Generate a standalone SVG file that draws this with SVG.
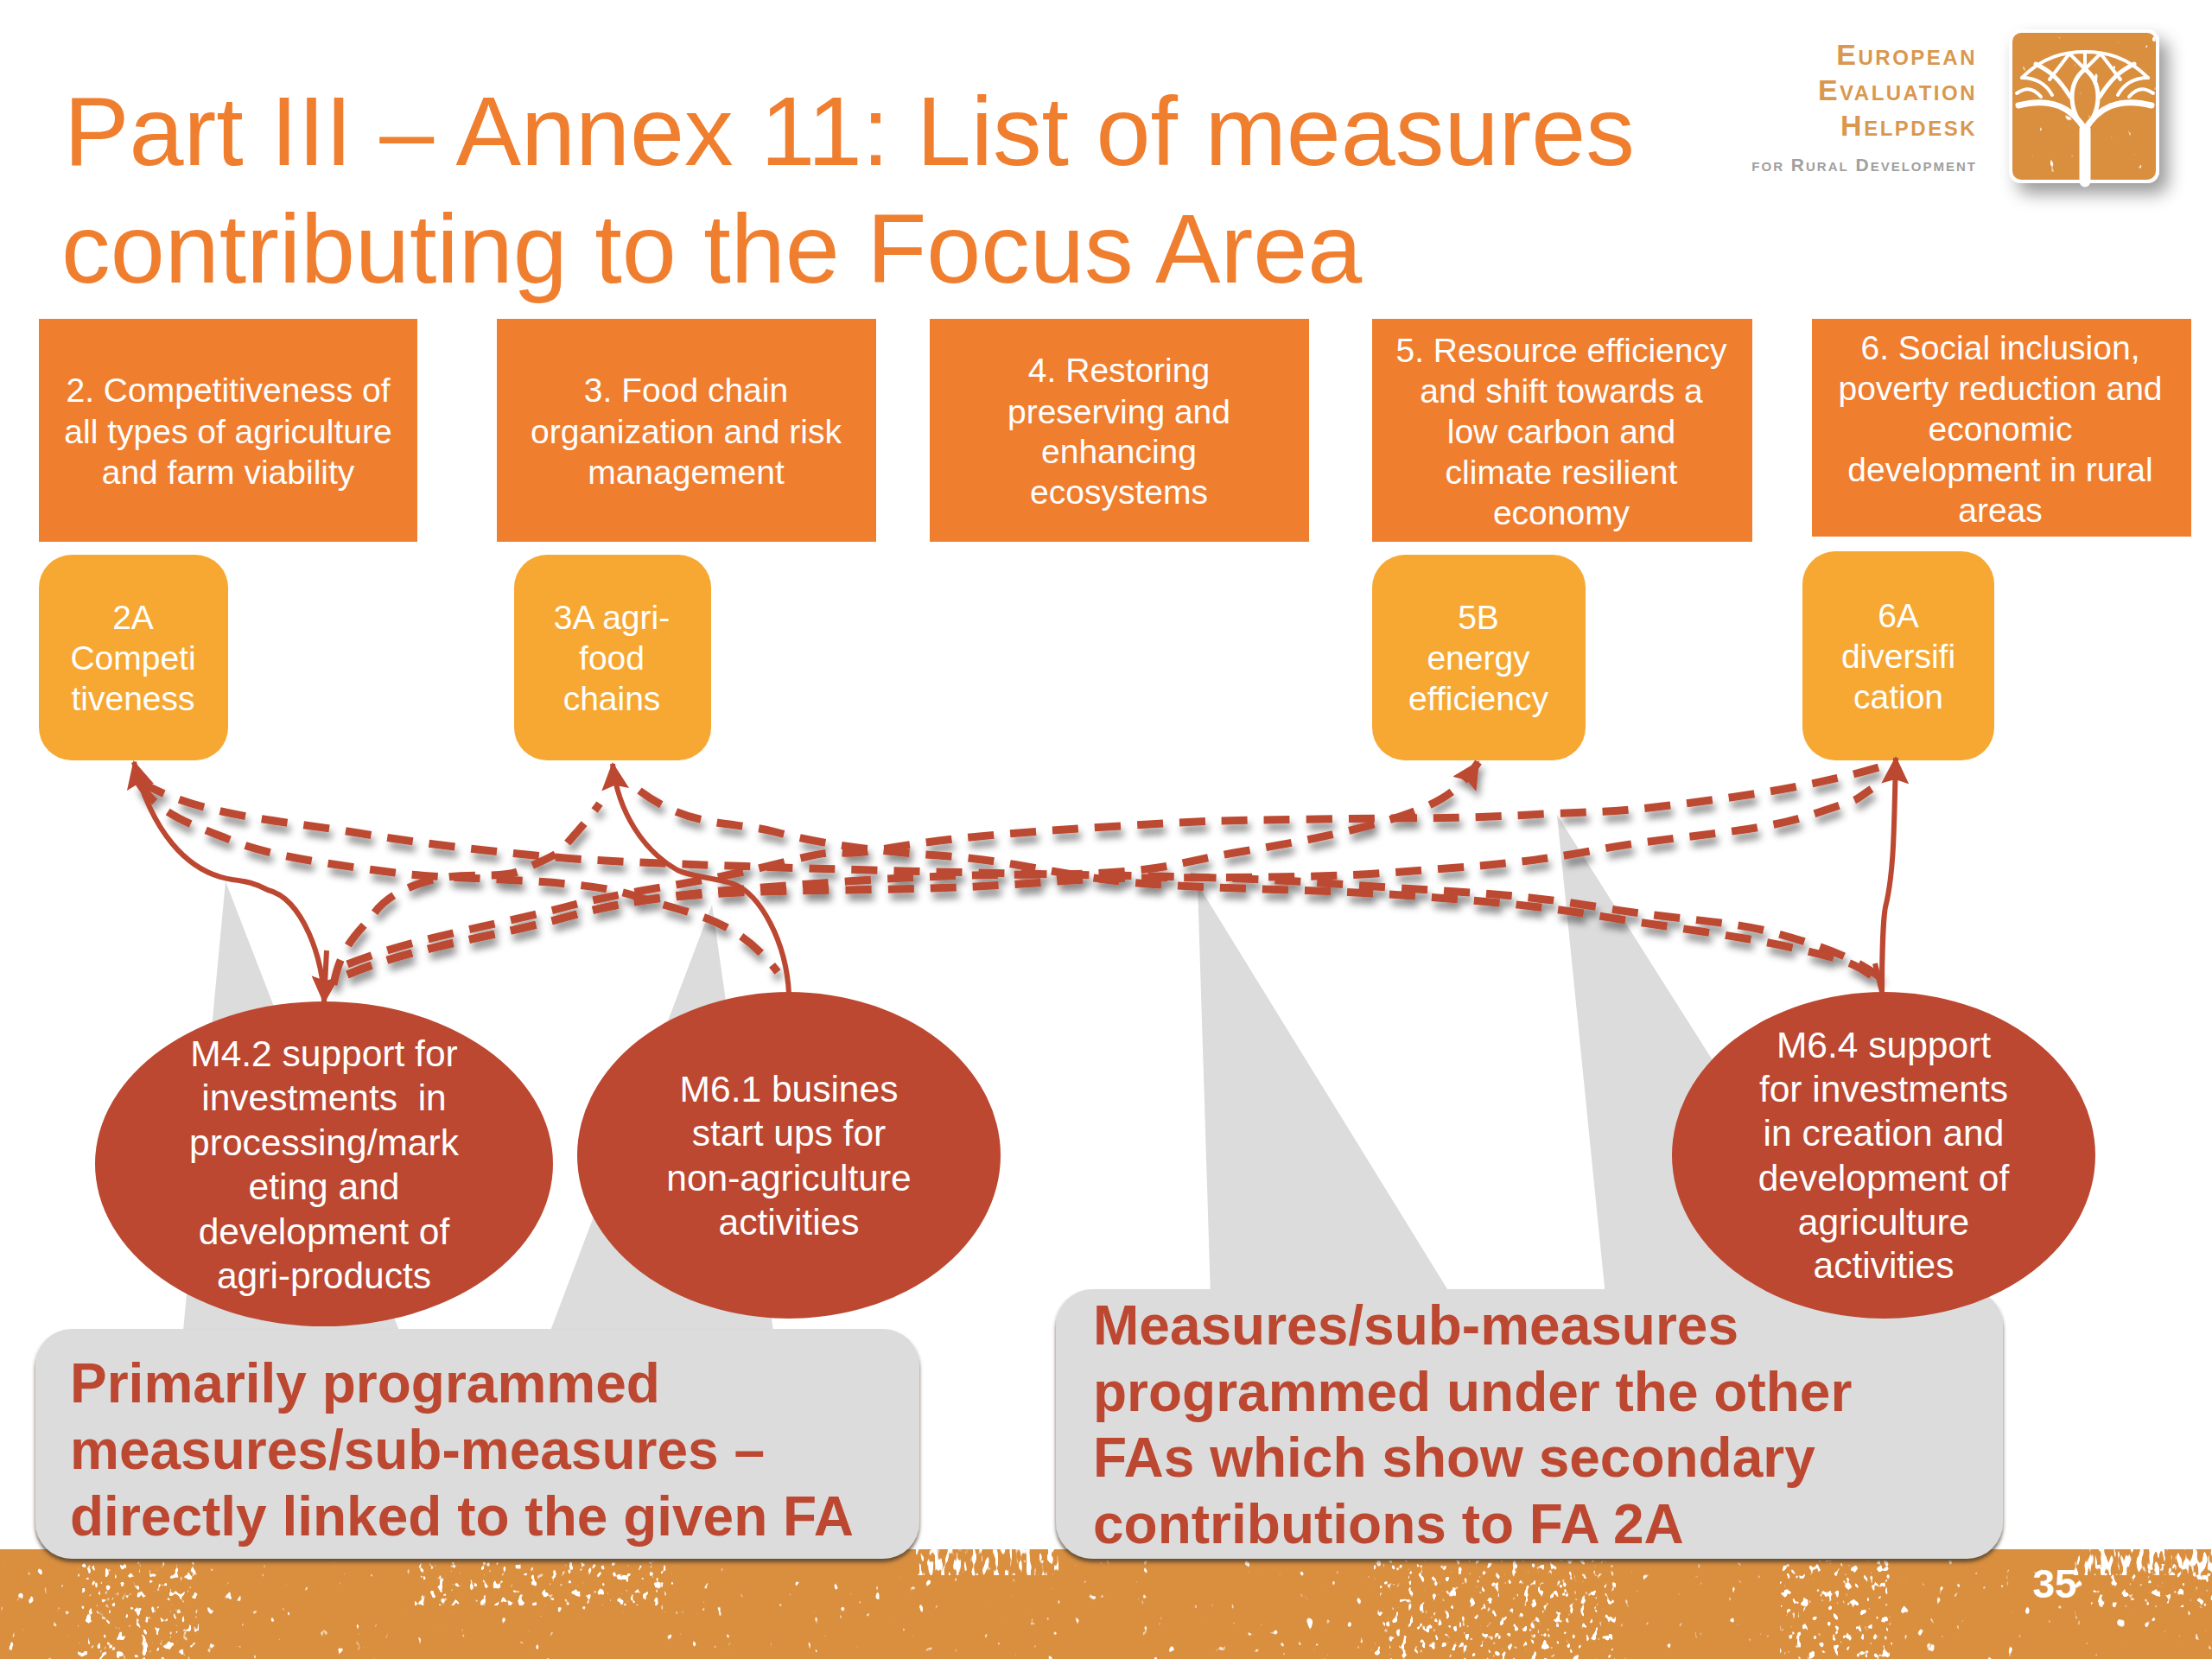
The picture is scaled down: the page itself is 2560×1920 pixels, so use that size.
<svg xmlns="http://www.w3.org/2000/svg" width="2560" height="1920" viewBox="0 0 2560 1920">
<defs>
<style>
text{font-family:"Liberation Sans",Arial,sans-serif;white-space:pre}
.t{fill:#F07E2F;font-size:113.3px}
.box{fill:#F07E2F}.yel{fill:#F7A833}.ell{fill:#BC4831}
.w{fill:#fff;font-size:39px;text-anchor:middle}
.e{fill:#fff;font-size:42.5px;text-anchor:middle}
.c{fill:#BC4831;font-size:64px;font-weight:bold}
.wedge{fill:#DCDCDC}
.lg{fill:#D9984F;font-size:34px;font-weight:bold;text-anchor:end;letter-spacing:2.5px;font-variant:small-caps}
.lg2{fill:#A0A0A0;font-size:21px;text-anchor:end;letter-spacing:2px;font-variant:small-caps;font-weight:bold}
.d{fill:none;stroke:#BC4831;stroke-width:9;stroke-dasharray:30 19}
.s{fill:none;stroke:#BC4831;stroke-width:6}
.tree{fill:none;stroke:#fff;stroke-linecap:round}
</style>
<marker id="ah" markerUnits="userSpaceOnUse" markerWidth="36" markerHeight="36" refX="30" refY="16" orient="auto"><path d="M0 0L32 16L0 32L5 16Z" fill="#BC4831"/></marker>
<filter id="sh" x="-5%" y="-20%" width="110%" height="140%"><feDropShadow dx="3" dy="8" stdDeviation="4" flood-color="#000" flood-opacity=".45"/></filter>
<filter id="csh" x="-3%" y="-3%" width="106%" height="108%"><feDropShadow dx="0" dy="4" stdDeviation="2" flood-color="#4a3a2a" flood-opacity=".8"/></filter>
<filter id="lsh" x="-20%" y="-20%" width="150%" height="150%"><feDropShadow dx="10" dy="12" stdDeviation="10" flood-color="#000" flood-opacity=".4"/></filter>
<filter id="speckS" x="0" y="0" width="1" height="1" color-interpolation-filters="sRGB"><feTurbulence type="fractalNoise" baseFrequency="0.1 0.07" numOctaves="2" seed="7"/><feColorMatrix values="0 0 0 0 1 0 0 0 0 1 0 0 0 0 1 16 0 0 0 -11.8"/><feComposite in2="SourceAlpha" operator="in"/></filter>
<filter id="speckD" x="0" y="0" width="1" height="1" color-interpolation-filters="sRGB"><feTurbulence type="fractalNoise" baseFrequency="0.14 0.1" numOctaves="2" seed="11"/><feColorMatrix values="0 0 0 0 1 0 0 0 0 1 0 0 0 0 1 16 0 0 0 -10.2"/><feComposite in2="SourceAlpha" operator="in"/></filter>
<filter id="speckE" x="0" y="0" width="1" height="1" color-interpolation-filters="sRGB"><feTurbulence type="fractalNoise" baseFrequency="0.16 0.05" numOctaves="2" seed="5"/><feColorMatrix values="0 0 0 0 1 0 0 0 0 1 0 0 0 0 1 14 0 0 0 -7.4"/><feComposite in2="SourceAlpha" operator="in"/></filter>
</defs>
<rect width="2560" height="1920" fill="#fff"/>

<g id="footer">
<rect x="0" y="1793" width="2560" height="127" fill="#DA8F3F"/>
<rect x="0" y="1806" width="2560" height="114" fill="#fff" filter="url(#speckS)"/>
<g fill="#fff" filter="url(#speckD)">
<rect x="90" y="1808" width="140" height="112"/>
<rect x="480" y="1808" width="300" height="50"/>
<rect x="1590" y="1806" width="280" height="114"/>
<rect x="2060" y="1806" width="130" height="114"/>
<rect x="2420" y="1810" width="140" height="50"/>
</g>
<g fill="#fff" filter="url(#speckE)">
<rect x="1060" y="1793" width="165" height="30"/>
<rect x="2400" y="1793" width="160" height="30"/>
</g>
<text x="2378" y="1849" font-size="46" font-weight="bold" fill="#fff" text-anchor="middle">35</text>
</g>

<g id="title">
<text class="t" x="74" y="191">Part III – Annex 11: List of measures</text>
<text class="t" x="71" y="327">contributing to the Focus Area</text>
</g>

<g id="logo">
<text class="lg" x="2288" y="75">European</text>
<text class="lg" x="2288" y="116">Evaluation</text>
<text class="lg" x="2288" y="157">Helpdesk</text>
<text class="lg2" x="2288" y="198">for Rural Development</text>
<rect x="2325" y="34" width="174" height="178" rx="14" fill="#fff" filter="url(#lsh)"/>
<rect x="2329" y="38" width="166" height="170" rx="10" fill="#DA8F3F"/>
<rect x="2329" y="38" width="166" height="170" rx="10" fill="#fff" filter="url(#speckS)"/>
<g class="tree">
<path d="M2413 210V150" stroke-width="13"/>
<path d="M2413 150C2398 125 2375 112 2336 122M2413 150C2428 125 2451 112 2490 122" stroke-width="7"/>
<path d="M2413 150C2392 125 2394 95 2413 80C2432 95 2434 125 2413 150" stroke-width="5"/>
<path d="M2396 112C2382 90 2372 82 2356 74M2430 112C2444 90 2454 82 2470 74" stroke-width="5"/>
<path d="M2413 80V62M2413 80L2395 62M2413 80L2431 62M2395 62L2372 92M2431 62L2454 92" stroke-width="4"/>
<path d="M2375 110C2365 92 2350 90 2340 90M2451 110C2461 92 2476 90 2486 90M2362 112C2350 98 2340 104 2334 108M2464 112C2476 98 2486 104 2492 108" stroke-width="4"/>
<path d="M2340 90C2365 65 2390 60 2413 60C2436 60 2461 65 2486 90" stroke-width="4"/>
</g>
</g>

<g id="wedges">
<path class="wedge" d="M261 1020L212 1540H462Z"/>
<path class="wedge" d="M824 1047L637 1540H895Z"/>
<path class="wedge" d="M1386 1023L1401 1500H1680Z"/>
<path class="wedge" d="M1802 943L1858 1500H2155Z"/>
</g>

<g id="callout-primary">
<rect class="wedge" x="41" y="1538" width="1023" height="266" rx="42" filter="url(#csh)"/>
<text class="c" x="81" y="1623">Primarily programmed</text>
<text class="c" x="81" y="1700">measures/sub-measures –</text>
<text class="c" x="81" y="1777">directly linked to the given FA</text>
</g>
<g id="callout-secondary">
<rect class="wedge" x="1222" y="1492" width="1096" height="312" rx="42" filter="url(#csh)"/>
<text class="c" x="1265" y="1556">Measures/sub-measures</text>
<text class="c" x="1265" y="1633">programmed under the other</text>
<text class="c" x="1265" y="1709">FAs which show secondary</text>
<text class="c" x="1265" y="1786">contributions to FA 2A</text>
</g>

<g id="box2"><rect class="box" x="45" y="369" width="438" height="258"/>
<text class="w" x="264" y="465">2. Competitiveness of</text><text class="w" x="264" y="513">all types of agriculture</text><text class="w" x="264" y="560">and farm viability</text></g>
<g id="box3"><rect class="box" x="575" y="369" width="439" height="258"/>
<text class="w" x="794" y="465">3. Food chain</text><text class="w" x="794" y="513">organization and risk</text><text class="w" x="794" y="560">management</text></g>
<g id="box4"><rect class="box" x="1076" y="369" width="439" height="258"/>
<text class="w" x="1295" y="442">4. Restoring</text><text class="w" x="1295" y="490">preserving and</text><text class="w" x="1295" y="536">enhancing</text><text class="w" x="1295" y="583">ecosystems</text></g>
<g id="box5"><rect class="box" x="1588" y="369" width="440" height="258"/>
<text class="w" x="1807" y="419">5. Resource efficiency</text><text class="w" x="1807" y="466">and shift towards a</text><text class="w" x="1807" y="513">low carbon and</text><text class="w" x="1807" y="560">climate resilient</text><text class="w" x="1807" y="607">economy</text></g>
<g id="box6"><rect class="box" x="2097" y="369" width="439" height="252"/>
<text class="w" x="2315" y="416">6. Social inclusion,</text><text class="w" x="2315" y="463">poverty reduction and</text><text class="w" x="2315" y="510">economic</text><text class="w" x="2315" y="557">development in rural</text><text class="w" x="2315" y="604">areas</text></g>

<g id="fa2a"><rect class="yel" x="45" y="642" width="219" height="238" rx="38"/>
<text class="w" x="154" y="728">2A</text><text class="w" x="154" y="775">Competi</text><text class="w" x="154" y="822">tiveness</text></g>
<g id="fa3a"><rect class="yel" x="595" y="642" width="228" height="238" rx="38"/>
<text class="w" x="708" y="728">3A agri-</text><text class="w" x="708" y="775">food</text><text class="w" x="708" y="822">chains</text></g>
<g id="fa5b"><rect class="yel" x="1588" y="642" width="247" height="238" rx="38"/>
<text class="w" x="1711" y="728">5B</text><text class="w" x="1711" y="775">energy</text><text class="w" x="1711" y="822">efficiency</text></g>
<g id="fa6a"><rect class="yel" x="2086" y="638" width="222" height="242" rx="38"/>
<text class="w" x="2197" y="726">6A</text><text class="w" x="2197" y="773">diversifi</text><text class="w" x="2197" y="820">cation</text></g>

<g id="connectors">
<g filter="url(#sh)">
<path class="d" d="M163 905C230 945 330 950 408 963S560 985 653 993S1100 1010 1280 1013S1500 1020 1607 1027S1760 1035 1851 1050S2000 1065 2055 1080S2150 1110 2178 1133"/>
<path class="d" d="M160 905C185 945 225 955 269 973S380 1000 457 1010S670 1015 735 1037S850 1060 900 1125"/>
<path class="d" d="M740 915C800 960 850 950 898 963S1010 985 1086 990S1200 1007 1280 1018S1500 1028 1607 1035S1780 1048 1851 1060S2010 1082 2080 1098S2150 1118 2178 1138"/>
<path class="d" d="M386 1140C395 1090 420 1075 433 1057S470 1025 506 1017S580 1018 604 1007S645 990 653 980S680 950 694 930"/>
<path class="d" marker-end="url(#ah)" d="M402 1128C480 1095 570 1085 653 1062S800 1032 980 1020S1200 1015 1280 1010S1362 998 1440 985S1574 960 1620 945S1690 915 1711 882"/>
<path class="d" d="M402 1128C480 1095 570 1085 653 1062S800 1032 980 1030S1200 1020 1280 1017S1500 1018 1607 1010S1760 1000 1851 983S2030 965 2096 943S2140 930 2166 913"/>
<path class="d" d="M402 1116C480 1085 570 1072 653 1050S800 1025 898 1000S950 995 1020 983S1150 965 1280 957S1400 950 1525 948S1680 948 1770 943S1850 942 1933 932S2100 910 2178 887"/>
</g>
<path class="s" marker-end="url(#ah)" d="M375 1160C375 1110 350 1040 310 1030C295 1022 285 1020 269 1018C215 1010 175 960 155 882"/>
<path class="s" marker-end="url(#ah)" d="M913 1150C910 1090 880 1035 849 1023C825 1015 800 1015 784 1007C745 985 715 940 709 884"/>
<path class="s" marker-end="url(#ah)" d="M2178 1150C2178 1100 2180 1060 2182 1050C2192 1010 2192 960 2194 877"/>
<path class="s" marker-end="url(#ah)" d="M378 1100L375 1160"/>
<path class="s" d="M2170 1115L2178 1148"/>
</g>

<g id="m42"><ellipse class="ell" cx="375" cy="1347" rx="265" ry="188"/>
<text class="e" x="375" y="1234">M4.2 support for</text><text class="e" x="375" y="1285">investments  in</text><text class="e" x="375" y="1337">processing/mark</text><text class="e" x="375" y="1388">eting and</text><text class="e" x="375" y="1440">development of</text><text class="e" x="375" y="1491">agri-products</text></g>
<g id="m61"><ellipse class="ell" cx="913" cy="1337" rx="245" ry="189"/>
<text class="e" x="913" y="1275">M6.1 busines</text><text class="e" x="913" y="1326">start ups for</text><text class="e" x="913" y="1378">non-agriculture</text><text class="e" x="913" y="1429">activities</text></g>
<g id="m64"><ellipse class="ell" cx="2180" cy="1337" rx="245" ry="189"/>
<text class="e" x="2180" y="1224">M6.4 support</text><text class="e" x="2180" y="1275">for investments</text><text class="e" x="2180" y="1326">in creation and</text><text class="e" x="2180" y="1378">development of</text><text class="e" x="2180" y="1429">agriculture</text><text class="e" x="2180" y="1479">activities</text></g>
</svg>
